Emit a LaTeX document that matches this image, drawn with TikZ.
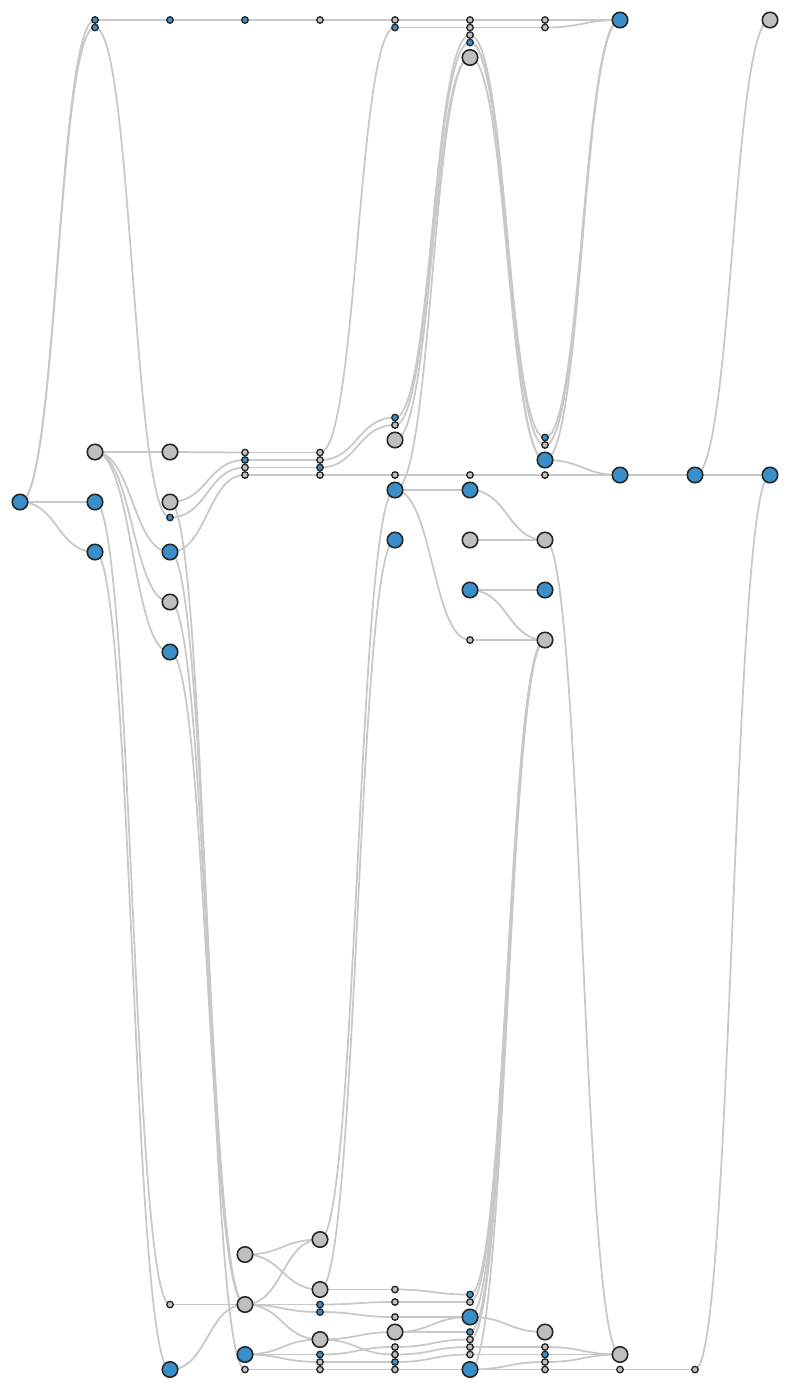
\documentclass[tikz,border=0pt]{standalone}
\usepackage{tikz}
\usetikzlibrary{backgrounds}
\usepackage{xcolor}

\definecolor{nodeblue}{HTML}{3A8FCB}
\definecolor{nodegray}{HTML}{BFBFBF}
\definecolor{edgegray}{HTML}{C8C8C8}

\begin{document}
\begin{tikzpicture}[
        x=0.02cm, y=-0.02cm,
        bb/.style={
            circle, draw=black!85, line width=0.9pt, fill=nodeblue,
            minimum size=0.31cm, inner sep=0pt
        },
        bg/.style={bb, fill=nodegray},
        sb/.style={
            circle, draw=black!85, line width=0.75pt, fill=nodeblue,
            minimum size=0.13cm, inner sep=0pt
        },
        so/.style={sb, fill=nodegray},
        link/.style={draw=edgegray, line width=1pt}
    ]

    \useasboundingbox (0,0) rectangle (790,1390);

    % Column 0
    \node[bb] (c0a) at (20,502) {};

    % Column 1
    \node[sb] (c1a) at (95,20) {};
    \node[sb] (c1b) at (95,27.5) {};
    \node[bg] (c1c) at (95,452) {};
    \node[bb] (c1d) at (95,502) {};
    \node[bb] (c1e) at (95,552) {};

    % Column 2
    \node[sb] (c2a) at (170,20) {};
    \node[bg] (c2b) at (170,452) {};
    \node[bg] (c2c) at (170,502) {};
    \node[sb] (c2d) at (170,517.5) {};
    \node[bb] (c2e) at (170,552) {};
    \node[bg] (c2f) at (170,602) {};
    \node[bb] (c2g) at (170,652) {};
    \node[so] (c2h) at (170,1304.5) {};
    \node[bb] (c2i) at (170,1369.5) {};

    % Column 3
    \node[sb] (c3a) at (245,20) {};
    \node[so] (c3b) at (245,452.5) {};
    \node[sb] (c3c) at (245,460) {};
    \node[so] (c3d) at (245,467.5) {};
    \node[so] (c3e) at (245,475) {};
    \node[bg] (c3f) at (245,1254.5) {};
    \node[bg] (c3g) at (245,1304.5) {};
    \node[bb] (c3h) at (245,1354.5) {};
    \node[so] (c3i) at (245,1369.5) {};

    % Column 4
    \node[so] (c4a) at (320,20) {};
    \node[so] (c4b) at (320,452.5) {};
    \node[so] (c4c) at (320,460) {};
    \node[sb] (c4d) at (320,467.5) {};
    \node[so] (c4e) at (320,475) {};
    \node[bg] (c4f) at (320,1239.5) {};
    \node[bg] (c4g) at (320,1289.5) {};
    \node[sb] (c4h) at (320,1304.5) {};
    \node[sb] (c4i) at (320,1312) {};
    \node[bg] (c4j) at (320,1339.5) {};
    \node[sb] (c4k) at (320,1354.5) {};
    \node[so] (c4l) at (320,1362) {};
    \node[so] (c4m) at (320,1369.5) {};

    % Column 5
    \node[so] (c5a) at (395,20) {};
    \node[sb] (c5b) at (395,27.5) {};
    \node[sb] (c5c) at (395,417.5) {};
    \node[so] (c5d) at (395,425) {};
    \node[bg] (c5e) at (395,440) {};
    \node[so] (c5f) at (395,475) {};
    \node[bb] (c5g) at (395,490) {};
    \node[bb] (c5h) at (395,540) {};
    \node[so] (c5i) at (395,1289.5) {};
    \node[so] (c5j) at (395,1302) {};
    \node[so] (c5k) at (395,1317) {};
    \node[bg] (c5l) at (395,1332) {};
    \node[so] (c5m) at (395,1347) {};
    \node[so] (c5n) at (395,1354.5) {};
    \node[sb] (c5o) at (395,1362) {};
    \node[so] (c5p) at (395,1369.5) {};

    % Column 6
    \node[so] (c6a) at (470,20) {};
    \node[so] (c6b) at (470,27.5) {};
    \node[so] (c6c) at (470,35) {};
    \node[sb] (c6d) at (470,42.5) {};
    \node[bg] (c6e) at (470,57.5) {};
    \node[so] (c6f) at (470,475) {};
    \node[bb] (c6g) at (470,490) {};
    \node[bg] (c6h) at (470,540) {};
    \node[bb] (c6i) at (470,590) {};
    \node[so] (c6j) at (470,640) {};
    \node[sb] (c6k) at (470,1294.5) {};
    \node[so] (c6l) at (470,1302) {};
    \node[bb] (c6m) at (470,1317) {};
    \node[sb] (c6n) at (470,1332) {};
    \node[so] (c6o) at (470,1339.5) {};
    \node[so] (c6p) at (470,1347) {};
    \node[so] (c6q) at (470,1354.5) {};
    \node[bb] (c6r) at (470,1369.5) {};

    % Column 7
    \node[so] (c7a) at (545,20) {};
    \node[so] (c7b) at (545,27.5) {};
    \node[sb] (c7c) at (545,437.5) {};
    \node[so] (c7d) at (545,445) {};
    \node[bb] (c7e) at (545,460) {};
    \node[so] (c7f) at (545,475) {};
    \node[bg] (c7g) at (545,540) {};
    \node[bb] (c7h) at (545,590) {};
    \node[bg] (c7i) at (545,640) {};
    \node[bg] (c7j) at (545,1332) {};
    \node[so] (c7k) at (545,1347) {};
    \node[sb] (c7l) at (545,1354.5) {};
    \node[so] (c7m) at (545,1362) {};
    \node[so] (c7n) at (545,1369.5) {};

    % Column 8
    \node[bb] (c8a) at (620,20) {};
    \node[bb] (c8b) at (620,475) {};
    \node[bg] (c8c) at (620,1354.5) {};
    \node[so] (c8d) at (620,1369.5) {};

    % Column 9
    \node[bb] (c9a) at (695,475) {};
    \node[so] (c9b) at (695,1369.5) {};

    % Column 10
    \node[bg] (c10a) at (770,20) {};
    \node[bb] (c10b) at (770,475) {};

    % Links, behind the nodes
    \begin{scope}[on background layer]
    \foreach \a/\b in {
        c0a/c1a, c0a/c1b, c0a/c1d, c0a/c1e,
        c1a/c2a, c1b/c2d, c1c/c2b, c1c/c2e, c1c/c2f, c1c/c2g, c1d/c2h, c1e/c2i,
        c2a/c3a, c2b/c3b, c2c/c3c, c2d/c3d, c2e/c3e, c2c/c3i, c2e/c3g,
        c2f/c3g, c2g/c3g, c2h/c3g, c2i/c3g,
        c3a/c4a, c3b/c4b, c3c/c4c, c3d/c4d, c3e/c4e, c3f/c4f, c3f/c4g,
        c3g/c4f, c3g/c4h, c3g/c4i, c3g/c4j, c3h/c4j, c3h/c4k, c3h/c4l, c3i/c4m,
        c4a/c5a, c4b/c5b, c4c/c5c, c4d/c5d, c4e/c5f, c4f/c5g, c4g/c5h,
        c4g/c5i, c4h/c5j, c4i/c5k, c4j/c5l, c4j/c5n, c4k/c5m, c4l/c5o, c4m/c5p,
        c5a/c6a, c5b/c6b, c5c/c6c, c5d/c6d, c5e/c6e, c5g/c6e, c5f/c6f,
        c5g/c6g, c5g/c6j, c5i/c6k, c5j/c6l, c5k/c6m, c5l/c6m, c5l/c6n,
        c5m/c6o, c5n/c6p, c5o/c6q, c5p/c6r,
        c6a/c7a, c6b/c7b, c6c/c7c, c6d/c7d, c6d/c7e, c6e/c7e, c6f/c7f,
        c6g/c7g, c6h/c7g, c6i/c7h, c6i/c7i, c6j/c7i, c6k/c7i, c6l/c7i,
        c6m/c7i, c6n/c7i, c6o/c7i, c6r/c7i, c6m/c7j, c6p/c7k, c6q/c7l,
        c6r/c7m, c6r/c7n,
        c7a/c8a, c7b/c8a, c7c/c8a, c7d/c8a, c7e/c8a, c7e/c8b, c7f/c8b,
        c7g/c8c, c7k/c8c, c7l/c8c, c7m/c8c, c7n/c8d,
        c8b/c9a, c8d/c9b,
        c9a/c10a, c9a/c10b, c9b/c10b}
        \draw[link] (\a.center) .. controls +(37.5,0) and +(-37.5,0) .. (\b.center);
    \end{scope}

\end{tikzpicture}
\end{document}
